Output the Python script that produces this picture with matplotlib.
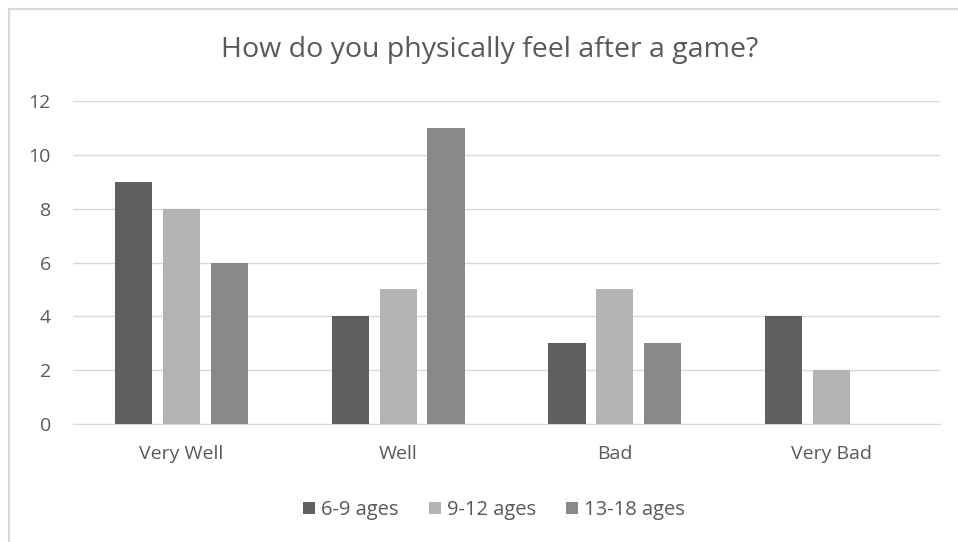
import matplotlib.pyplot as plt
import numpy as np
from matplotlib.lines import Line2D

categories = ["Very Well", "Well", "Bad", "Very Bad"]
series_names = ["6-9 ages", "9-12 ages", "13-18 ages"]
ages_6_9 = [9, 4, 3, 4]
ages_9_12 = [8, 5, 5, 2]
ages_13_18 = [6, 11, 3, 0]
colors = ["#5f5f5f", "#b3b3b3", "#898989"]

plt.rcParams["font.family"] = ["Open Sans", "DejaVu Sans"]
text_color = "#595959"

fig = plt.figure(figsize=(9.58, 5.42), dpi=100)
ax = fig.add_axes([73 / 958, 1 - 424 / 542, 867 / 958, 323 / 542])

x = np.arange(len(categories))
width = 0.171
step = 0.221
for i, (vals, name) in enumerate(zip([ages_6_9, ages_9_12, ages_13_18], series_names)):
    ax.bar(x + (i - 1) * step, vals, width, color=colors[i], label=name, zorder=3)

ax.set_xlim(-0.5, 3.5)
ax.set_ylim(0, 12)
ax.set_yticks(range(0, 13, 2))
ax.set_xticks(x)
ax.set_xticklabels(categories)
ax.grid(axis="y", color="#d9d9d9", linewidth=1, zorder=0)
for s in ["top", "right", "left"]:
    ax.spines[s].set_visible(False)
ax.spines["bottom"].set_color("#d9d9d9")
ax.tick_params(axis="both", length=0, labelsize=14, colors=text_color)
ax.tick_params(axis="y", pad=16)
ax.tick_params(axis="x", pad=15)

fig.text(490 / 958, 1 - 50 / 542, "How do you physically feel after a game?",
         ha="center", va="center", fontsize=20.5, color=text_color)

leg = fig.legend(loc="center", bbox_to_anchor=(494 / 958, 1 - 510 / 542), ncol=3,
                 frameon=False, fontsize=14.5, handlelength=0.6, handleheight=0.6,
                 handletextpad=0.3, columnspacing=1.5)
for t in leg.get_texts():
    t.set_color(text_color)

# chart border (only top and left visible in the crop)
fig.add_artist(Line2D([9 / 958, 9 / 958], [0, 1 - 9 / 542], color="#d9d9d9", linewidth=1.5))
fig.add_artist(Line2D([9 / 958, 1], [1 - 9 / 542, 1 - 9 / 542], color="#d9d9d9", linewidth=1.5))

fig.savefig("out.png", dpi=100)
